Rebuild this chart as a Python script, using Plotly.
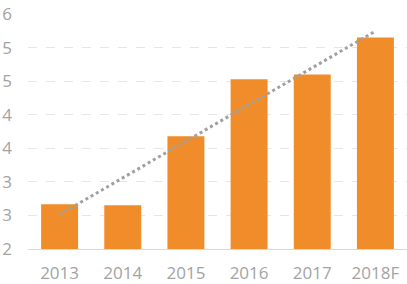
import numpy as np
import plotly.graph_objects as go

categories = ["2013", "2014", "2015", "2016", "2017", "2018F"]
values = [2.665, 2.65, 3.68, 4.53, 4.60, 5.15]
ytick_vals = [2, 2.5, 3, 3.5, 4, 4.5, 5, 5.5]
ytick_text = ["2", "3", "3", "4", "4", "5", "5", "6"]

# linear trendline (least squares, as in the source chart)
xs = np.arange(1, len(values) + 1)
slope, intercept = np.polyfit(xs, values, 1)
trend = list(slope * xs + intercept)

fig = go.Figure()
fig.add_trace(go.Bar(x=categories, y=values, marker_color="#F08D2A",
                     marker_line_width=0, hoverinfo="skip"))
fig.add_trace(go.Scatter(x=categories, y=trend, mode="lines",
                         line=dict(color="#A0A0A0", width=3, dash="dot"),
                         hoverinfo="skip"))

fig.update_layout(
    width=407, height=284,
    margin=dict(l=28, r=0, t=14, b=33),
    paper_bgcolor="white", plot_bgcolor="white",
    showlegend=False,
    bargap=0.415,
    font=dict(family="Open Sans", size=17, color="#A3A3A3"),
)
fig.update_xaxes(type="category", showline=True, linecolor="#D9D9D9", linewidth=1,
                 showgrid=False, ticks="", ticklabelstandoff=9,
                 tickfont=dict(size=17, color="#A3A3A3"))
fig.update_yaxes(range=[2, 5.5], tickvals=ytick_vals, ticktext=ytick_text,
                 showgrid=True, gridcolor="#E6E6E6", griddash="dash", gridwidth=1,
                 zeroline=False, showline=False, ticks="", ticklabelstandoff=15,
                 tickfont=dict(size=17, color="#A3A3A3"))

fig.write_html("out.html")
